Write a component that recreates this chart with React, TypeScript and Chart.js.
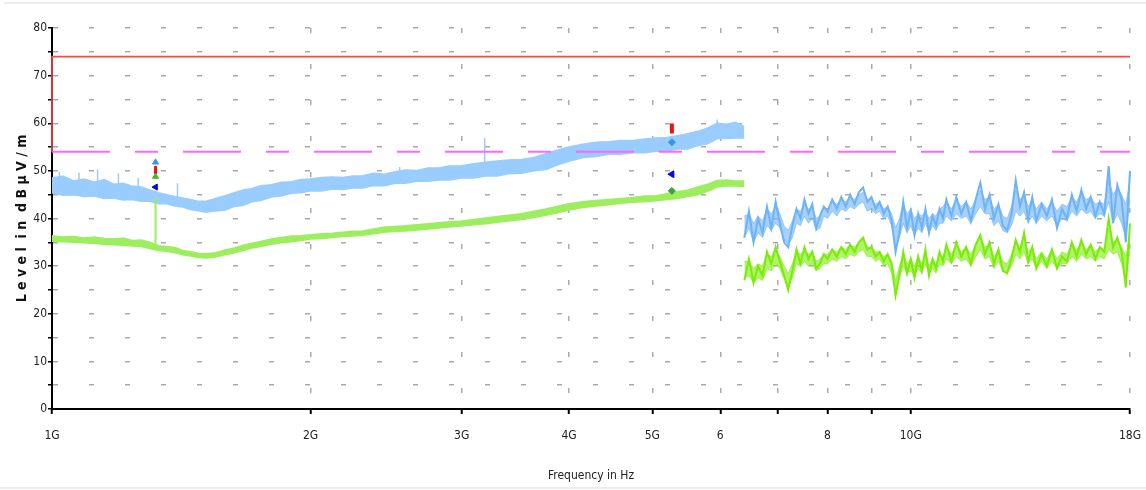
import React, { useEffect, useRef } from 'react';
import { Chart, registerables } from 'chart.js';

Chart.register(...registerables);

const FONT = "'Liberation Sans Narrow', 'DejaVu Sans Condensed', 'Arial Narrow', 'Liberation Sans', sans-serif";

// Axis ticks (frequency in GHz, level in dBµV/m)
const X_TICKS = [1, 2, 3, 4, 5, 6, 7, 8, 9, 10, 18];
const X_TICK_LABELS = ['1G', '2G', '3G', '4G', '5G', '6', '', '8', '', '10G', '18G'];
const Y_MIN = 0;
const Y_MAX = 80;
const Y_STEP = 5;

// Limit lines
const LIMIT_FREQ = [1, 1, 18];
const LIMIT_LEVEL = [54, 74, 74];
const AVG_LIMIT_FREQ = [1, 18];
const AVG_LIMIT_LEVEL = [54, 54];

// Segment 1 (1 – 6.4 GHz): band envelopes
const SEG1_FREQ = [
  1.00, 1.03, 1.06, 1.09, 1.12, 1.15, 1.18, 1.21, 1.24, 1.27,
  1.30, 1.33, 1.36, 1.39, 1.42, 1.45, 1.48, 1.51, 1.55, 1.59,
  1.63, 1.67, 1.71, 1.75, 1.80, 1.85, 1.90, 1.95, 2.00, 2.06,
  2.12, 2.18, 2.24, 2.30, 2.37, 2.44, 2.51, 2.58, 2.66, 2.74,
  2.82, 2.90, 3.00, 3.10, 3.20, 3.30, 3.40, 3.52, 3.64, 3.76,
  3.88, 4.00, 4.15, 4.30, 4.45, 4.60, 4.75, 4.90, 5.05, 5.20,
  5.35, 5.50, 5.65, 5.80, 5.95, 6.10, 6.25, 6.40,
];
const PEAK1_LOW = [
  45.4, 44.9, 45.0, 44.6, 44.7, 44.2, 44.3, 43.9, 44.0, 43.6,
  43.6, 43.1, 43.1, 42.6, 42.4, 41.9, 41.6, 41.3, 41.6, 41.8,
  42.5, 42.8, 43.5, 43.8, 44.5, 44.8, 45.3, 45.4, 45.8, 45.8,
  46.2, 46.1, 46.4, 46.4, 46.9, 46.9, 47.4, 47.4, 47.8, 47.8,
  48.1, 48.1, 48.5, 48.5, 48.9, 48.9, 49.4, 49.5, 50.0, 50.3,
  51.3, 52.0, 52.8, 53.0, 53.5, 53.5, 53.8, 53.8, 54.1, 54.1,
  54.6, 54.6, 55.3, 55.7, 56.8, 56.8, 56.9, 56.9,
];
const PEAK1_HIGH = [
  48.5, 48.9, 47.9, 48.3, 47.6, 48.2, 47.2, 47.4, 46.8, 46.6,
  46.0, 45.4, 45.0, 44.6, 44.3, 44.0, 43.6, 43.6, 44.2, 44.8,
  45.4, 46.0, 46.3, 46.9, 47.1, 47.6, 47.7, 48.2, 48.3, 48.6,
  48.7, 48.6, 48.9, 49.0, 49.5, 49.3, 49.8, 50.2, 50.1, 50.6,
  50.6, 51.0, 51.1, 51.5, 51.8, 52.1, 52.3, 52.4, 52.8, 53.6,
  54.4, 55.0, 55.6, 56.0, 56.1, 56.4, 56.4, 56.7, 56.9, 57.0,
  57.4, 57.8, 58.3, 59.0, 60.0, 59.8, 60.2, 59.3,
];
const AVG1_LOW = [
  35.2, 35.1, 35.0, 34.9, 34.8, 34.6, 34.5, 34.4, 34.2, 34.1,
  33.7, 33.3, 33.1, 32.8, 32.4, 32.1, 31.8, 31.7, 31.9, 32.4,
  32.8, 33.3, 33.8, 34.1, 34.6, 34.9, 35.1, 35.4, 35.7, 35.8,
  36.0, 36.2, 36.3, 36.5, 36.8, 37.1, 37.3, 37.4, 37.6, 37.8,
  38.0, 38.2, 38.4, 38.7, 38.9, 39.2, 39.5, 39.8, 40.2, 40.7,
  41.2, 41.8, 42.3, 42.6, 42.9, 43.2, 43.4, 43.5, 43.7, 44.0,
  44.2, 44.6, 45.0, 45.7, 46.6, 46.9, 46.8, 46.7,
];
const AVG1_HIGH = [
  36.4, 36.1, 36.2, 35.9, 36.1, 35.8, 35.7, 35.9, 35.4, 35.5,
  35.0, 34.3, 34.1, 33.9, 33.3, 33.0, 32.7, 32.6, 32.8, 33.4,
  33.8, 34.4, 34.8, 35.2, 35.7, 36.0, 36.3, 36.4, 36.6, 36.8,
  36.9, 37.1, 37.3, 37.4, 37.8, 38.2, 38.3, 38.5, 38.7, 38.9,
  39.1, 39.3, 39.5, 39.8, 40.1, 40.4, 40.7, 41.0, 41.5, 42.0,
  42.6, 43.1, 43.5, 43.8, 44.0, 44.2, 44.4, 44.7, 44.8, 45.2,
  45.6, 46.0, 46.6, 47.2, 48.0, 48.1, 47.9, 47.9,
];

// Narrow spikes in segment 1
const PEAK_SPIKE_FREQ = [1.02, 1.075, 1.13, 1.195, 1.26, 1.40, 2.54, 3.19, 5.95];
const PEAK_SPIKE_BASE = [48.0, 47.8, 47.5, 47.0, 46.6, 44.5, 49.5, 51.5, 59.5];
const PEAK_SPIKE_TOP = [49.8, 49.6, 50.3, 49.5, 48.5, 47.4, 50.8, 56.9, 60.8];
const AVG_SPIKE_FREQ = [1.32];
const AVG_SPIKE_BASE = [33.6];
const AVG_SPIKE_TOP = [44.5];

// Segment 2 (6.4 – 18 GHz)
const SEG2_FREQ = [
  6.40, 6.48, 6.56, 6.64, 6.72, 6.80, 6.88, 6.96, 7.04, 7.12,
  7.20, 7.28, 7.36, 7.44, 7.52, 7.60, 7.68, 7.76, 7.84, 7.92,
  8.00, 8.10, 8.20, 8.30, 8.40, 8.50, 8.60, 8.70, 8.80, 8.90,
  9.00, 9.10, 9.20, 9.30, 9.40, 9.50, 9.60, 9.70, 9.80, 9.90,
  10.0, 10.1, 10.2, 10.3, 10.4, 10.5, 10.6, 10.7, 10.8, 10.9,
  11.0, 11.15, 11.3, 11.45, 11.6, 11.75, 11.9, 12.05, 12.2, 12.35,
  12.5, 12.65, 12.8, 12.95, 13.1, 13.25, 13.4, 13.55, 13.7, 13.85,
  14.0, 14.2, 14.4, 14.6, 14.8, 15.0, 15.2, 15.4, 15.6, 15.8,
  16.0, 16.2, 16.4, 16.6, 16.8, 17.0, 17.2, 17.4, 17.6, 17.8,
  18.0,
];
const PEAK2 = [
  36, 41.5, 35, 40, 37, 42.5, 38, 43.5, 39, 35,
  34, 38.5, 42, 40, 44, 41, 43, 38, 40.5, 42.5,
  41.5, 44, 42, 44.5, 42.5, 45, 43, 45.5, 46.5, 43.5,
  44.5, 42, 43.5, 41, 42.5, 39.5, 33, 37, 43.5, 38,
  41.5, 36.5, 41, 38, 42, 37, 40.5, 38.5, 42, 40,
  44, 40.5, 44.5, 41, 43.5, 39.5, 44, 47.5, 42, 45,
  40, 43, 38.5, 37.5, 41, 48, 42.5, 45.5, 40, 44.5,
  39.5, 43, 40.5, 44, 38, 42, 40, 45, 41.5, 46,
  42, 44.5, 40.5, 43.5, 41, 51, 39, 47, 44, 35,
  50,
];
const PEAK2_HIGH = [
  40.5, 41, 39, 40.5, 39.5, 42, 41, 42.5, 41, 38.5,
  37.5, 39.5, 42, 41.5, 43, 42, 42.5, 40, 40.5, 42.5,
  42, 43.5, 43, 44, 43.5, 44.5, 44, 45, 45.5, 44,
  44, 43, 43.5, 42, 42.5, 41, 38, 40, 43, 41,
  42, 40, 41, 40.5, 41.5, 40, 41, 40.5, 42, 42.5,
  43.5, 42, 44, 42.5, 43.5, 42, 44, 46, 44, 44.5,
  42, 43, 40.5, 40, 42.5, 46, 44, 45, 42.5, 44,
  42, 43.5, 42, 43.5, 41.5, 43, 42.5, 44.5, 43.5, 45.5,
  44, 44.5, 43, 43.5, 43, 48, 45, 46.5, 45, 43,
  48,
];
const PEAK2_LOW = [
  36, 38, 35, 37, 36, 38.5, 37.5, 39, 38, 35.5,
  34.5, 36, 39, 38.5, 40.5, 39, 40, 37.5, 38, 40.5,
  40, 41.5, 40.5, 42, 41.5, 42.5, 42, 43, 43.5, 41.5,
  42, 41, 41.5, 40, 40.5, 38.5, 34, 36, 39, 37,
  38.5, 36.5, 38, 37, 39, 37, 38.5, 37.5, 39, 39,
  40.5, 39.5, 41, 40, 40.5, 39, 41, 42.5, 41, 41,
  38.5, 39.5, 37.5, 37, 38.5, 41.5, 40.5, 41.5, 39, 40.5,
  39, 40.5, 39.5, 40.5, 38.5, 40, 39.5, 41.5, 40.5, 42,
  41, 41.5, 40, 41, 40.5, 43.5, 39, 41, 39, 36,
  44,
];
const AVG2 = [
  27, 31.5, 26.5, 30, 28, 33, 30.5, 34, 31, 28,
  25, 29, 33.5, 30.5, 34, 31.5, 33, 29.5, 30.5, 32.5,
  31.5, 33.5, 32, 34, 32.5, 34.5, 33, 35, 36, 33.5,
  34, 32, 33, 31, 32.5, 30.5, 23.8, 28, 33, 28.5,
  31.5, 27.5, 32, 29, 33.5, 28, 31.5, 29.5, 33, 31,
  34.5, 31, 35, 32, 34, 30.5, 34.5, 36.5, 32.5, 35,
  30.5, 33.5, 29, 28.5, 31.5, 35.5, 33, 37, 31, 34,
  29.5, 32.5, 30, 33.5, 29.5, 32, 31, 35, 32, 35.5,
  32.5, 34.5, 31.5, 34, 33, 40, 34, 36, 33, 25.5,
  39,
];
const AVG2_HIGH = [
  31, 31, 29.5, 30.5, 30, 32.5, 32, 33.5, 32, 30,
  28.5, 30.5, 33, 32.5, 33.5, 32.5, 33, 31, 31.5, 32.5,
  32.5, 33.5, 33, 34, 33.5, 34.5, 34, 35, 35.5, 34,
  34, 33, 33, 32, 32.5, 31, 27, 30, 32.5, 30.5,
  31.5, 30, 32, 30.5, 33, 30, 31.5, 30.5, 32.5, 32,
  34, 32.5, 34.5, 33, 34, 32.5, 34.5, 36, 34, 34.5,
  32, 33.5, 31, 30.5, 32.5, 35, 34, 36, 33, 34,
  31.5, 33, 31.5, 33.5, 31.5, 33, 32.5, 34.5, 33.5, 35,
  33.5, 34.5, 33, 34, 33.5, 38, 35, 35.5, 34, 32,
  37,
];
const AVG2_LOW = [
  27.5, 28, 26.5, 27.5, 27, 29.5, 29, 30.5, 29.5, 27.5,
  26, 27.5, 30.5, 30, 31, 30, 30.5, 29, 29.5, 30.5,
  30.5, 31.5, 31, 32, 31.5, 32.5, 32, 33, 33.5, 32,
  32, 31, 31.5, 30, 30.5, 28.5, 24.5, 27.5, 30, 28.5,
  29, 28, 29.5, 28.5, 30.5, 28.5, 29.5, 28.5, 30.5, 30,
  31.5, 30.5, 32, 31, 31.5, 30, 32, 33.5, 31.5, 32,
  29.5, 31, 29, 28.5, 30, 32.5, 31.5, 33, 30.5, 31.5,
  29.5, 31, 29.5, 31, 29.5, 30.5, 30.5, 32, 31, 32.5,
  31.5, 32, 31, 32, 31.5, 33.5, 32.5, 33, 30.5, 27.5,
  33,
];

// Markers
const MARKER_FREQ = [1.32, 1.32, 1.32, 1.32, 5.27, 5.27, 5.27, 5.27];
const MARKER_LEVEL = [51.8, 50.2, 48.8, 46.6, 58.9, 56.0, 49.3, 45.8];
const MARKER_COLOR = ['#3399ee', '#ee1111', '#44bb22', '#0000ee', '#ee1111', '#3399dd', '#0000ee', '#33aa33'];
const MARKER_STYLE = ['triangle', 'line', 'triangle', 'triangle', 'line', 'rectRot', 'triangle', 'rectRot'];
const MARKER_ROT = [0, 90, 0, 270, 90, 0, 270, 0];
const MARKER_SIZE = [3.5, 4, 3.5, 3.5, 5, 3.5, 4, 3.5];
const MARKER_BORDER = [1, 3, 1, 1, 4, 1, 1, 1];

const pts = (xs: number[], ys: number[]) => xs.map((x, i) => ({ x, y: ys[i] }));
const spikes = (xs: number[], b: number[], t: number[]) =>
  xs.flatMap((x, i) => [{ x, y: b[i] }, { x, y: t[i] }, { x, y: null as any }]);

const framePlugin = {
  id: 'frame',
  beforeDraw(chart: any) {
    const { ctx, width, height } = chart;
    ctx.save();
    ctx.fillStyle = '#ffffff';
    ctx.fillRect(0, 0, width, height);
    ctx.strokeStyle = '#ececec';
    ctx.lineWidth = 2;
    ctx.beginPath();
    ctx.moveTo(4, 3);
    ctx.lineTo(width, 3);
    ctx.moveTo(0, 488);
    ctx.lineTo(width, 488);
    ctx.stroke();
    ctx.restore();
  },
};

const BLUE1 = '#99ccff';
const GREEN1 = '#9cee5e';
const BLUE2 = '#6cb3f8';
const BLUE2_FILL = 'rgba(108,179,248,0.6)';
const GREEN2 = '#7aec08';
const GREEN2_FILL = 'rgba(122,236,8,0.6)';

export default function App() {
  const ref = useRef<HTMLCanvasElement>(null);
  useEffect(() => {
    const line = (extra: any) => ({ pointRadius: 0, tension: 0, clip: false, ...extra });
    const chart = new Chart(ref.current!, {
      type: 'line',
      data: {
        datasets: [
          {
            data: pts(MARKER_FREQ, MARKER_LEVEL),
            showLine: false,
            pointStyle: MARKER_STYLE as any,
            pointRotation: MARKER_ROT,
            pointRadius: MARKER_SIZE,
            pointBackgroundColor: MARKER_COLOR,
            pointBorderColor: MARKER_COLOR,
            pointBorderWidth: MARKER_BORDER,
            clip: false,
          } as any,
          line({ data: pts(LIMIT_FREQ, LIMIT_LEVEL), borderColor: '#ff4444', borderWidth: 1.6 }),
          line({ data: pts(AVG_LIMIT_FREQ, AVG_LIMIT_LEVEL), borderColor: '#ff66ff', borderWidth: 2, borderDash: [58, 25, 23, 25] }),
          line({ data: spikes(PEAK_SPIKE_FREQ, PEAK_SPIKE_BASE, PEAK_SPIKE_TOP), borderColor: BLUE1, borderWidth: 1.5, spanGaps: false }),
          line({ data: spikes(AVG_SPIKE_FREQ, AVG_SPIKE_BASE, AVG_SPIKE_TOP), borderColor: GREEN1, borderWidth: 2, spanGaps: false }),
          line({ data: pts(SEG1_FREQ, PEAK1_HIGH), borderColor: BLUE1, backgroundColor: BLUE1, borderWidth: 1.5, fill: '+1' }),
          line({ data: pts(SEG1_FREQ, PEAK1_LOW), borderColor: BLUE1, borderWidth: 1.5 }),
          line({ data: pts(SEG1_FREQ, AVG1_HIGH), borderColor: GREEN1, backgroundColor: GREEN1, borderWidth: 1.5, fill: '+1' }),
          line({ data: pts(SEG1_FREQ, AVG1_LOW), borderColor: GREEN1, borderWidth: 1.5 }),
          line({ data: pts(SEG2_FREQ, PEAK2), borderColor: BLUE2, borderWidth: 2 }),
          line({ data: pts(SEG2_FREQ, PEAK2_HIGH), borderColor: BLUE2_FILL, backgroundColor: BLUE2_FILL, borderWidth: 1, fill: '+1' }),
          line({ data: pts(SEG2_FREQ, PEAK2_LOW), borderColor: BLUE2_FILL, borderWidth: 1 }),
          line({ data: pts(SEG2_FREQ, AVG2), borderColor: GREEN2, borderWidth: 2 }),
          line({ data: pts(SEG2_FREQ, AVG2_HIGH), borderColor: GREEN2_FILL, backgroundColor: GREEN2_FILL, borderWidth: 1, fill: '+1' }),
          line({ data: pts(SEG2_FREQ, AVG2_LOW), borderColor: GREEN2_FILL, borderWidth: 1 }),
        ],
      },
      options: {
        animation: false,
        responsive: false,
        events: [],
        layout: { padding: { left: 0, right: 16, top: 28, bottom: 0 } },
        plugins: { legend: { display: false }, tooltip: { enabled: false } },
        scales: {
          x: {
            type: 'logarithmic',
            min: 1,
            max: 18,
            afterBuildTicks: (s: any) => {
              s.ticks = X_TICKS.map((v) => ({ value: v }));
            },
            afterFit: (s: any) => {
              s.height = 81;
              s.paddingRight = 0;
              s.paddingLeft = 0;
            },
            ticks: {
              autoSkip: false,
              maxRotation: 0,
              minRotation: 0,
              padding: 15,
              color: '#222',
              font: { family: FONT, size: 12 },
              callback: (v: any) => {
                const i = X_TICKS.indexOf(Number(v));
                return i >= 0 ? X_TICK_LABELS[i] : '';
              },
            },
            grid: { color: '#a9a9a9', lineWidth: 1.5, tickLength: 5, tickColor: '#000', tickWidth: 2 },
            border: { display: true, color: '#000', width: 2, dash: [5, 31] },
            title: {
              display: true,
              text: 'Frequency in Hz',
              color: '#222',
              font: { family: FONT, size: 12 },
              padding: { top: 0, bottom: 7 },
            },
          },
          y: {
            type: 'linear',
            min: Y_MIN,
            max: Y_MAX,
            afterFit: (s: any) => {
              s.width = 52;
            },
            ticks: {
              stepSize: Y_STEP,
              padding: 1,
              color: '#222',
              font: { family: FONT, size: 12 },
              callback: (v: any) => (Number(v) % 10 === 0 ? String(v) : ''),
            },
            grid: { color: '#a9a9a9', lineWidth: 1.5, tickLength: 4, tickColor: '#000', tickWidth: 1.5 },
            border: { display: true, color: '#000', width: 2, dash: [5, 31] },
            title: {
              display: true,
              text: 'L e v e l  i n  d B µ V / m',
              color: '#111',
              font: { family: FONT, size: 14, weight: 'bold' },
              padding: { top: 14, bottom: 0 },
            },
          },
        },
      } as any,
      plugins: [framePlugin],
    });
    return () => chart.destroy();
  }, []);
  return (
    <div style={{ position: 'fixed', left: 0, top: 0, width: 1146, height: 490, background: '#fff' }}>
      <canvas ref={ref} width={1146} height={490} style={{ display: 'block', width: 1146, height: 490 }} />
    </div>
  );
}
